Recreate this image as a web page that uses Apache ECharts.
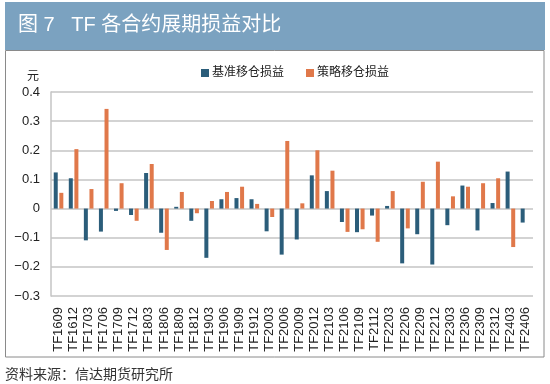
<!DOCTYPE html>
<html><head><meta charset="utf-8">
<script src="https://cdn.jsdelivr.net/npm/echarts@6/dist/echarts.min.js"></script>
<style>html,body{margin:0;padding:0;background:#fff}#c{width:550px;height:384px}</style>
</head><body><div id="c"></div>
<script>
const categories = ['TF1609','TF1612','TF1703','TF1706','TF1709','TF1712','TF1803','TF1806','TF1809','TF1812','TF1903','TF1906','TF1909','TF1912','TF2003','TF2006','TF2009','TF2012','TF2103','TF2106','TF2109','TF2112','TF2203','TF2206','TF2209','TF2212','TF2303','TF2306','TF2309','TF2312','TF2403','TF2406'];
const baseRoll = [0.124,0.104,-0.109,-0.079,-0.008,-0.022,0.122,-0.083,0.006,-0.042,-0.169,0.032,0.036,0.032,-0.078,-0.158,-0.106,0.114,0.060,-0.046,-0.081,-0.024,0.009,-0.188,-0.088,-0.192,-0.057,0.079,-0.075,0.019,0.127,-0.048];
const stratRoll = [0.054,0.204,0.067,0.342,0.087,-0.042,0.153,-0.142,0.057,-0.016,0.026,0.057,0.075,0.016,-0.029,0.232,0.018,0.200,0.130,-0.080,-0.071,-0.114,0.060,-0.068,0.092,0.161,0.042,0.075,0.087,0.104,-0.132,0];
const seriesNames = ['基准移仓损益','策略移仓损益'];
const yTicks = {min:-0.3, max:0.4, step:0.1};

const cjk = '"Liberation Sans","Noto Sans CJK SC",sans-serif';
const chart = echarts.init(document.getElementById('c'));
chart.setOption({
  backgroundColor:'#fff',
  animation:false,
  graphic:[
    {type:'rect',shape:{x:5,y:2,width:540,height:48},style:{fill:'#7ba2c0'},z:-1},
    {type:'rect',shape:{x:5.5,y:50.5,width:538.5,height:306.5},style:{fill:'none',stroke:'#8a8a8a',lineWidth:1},z:-1},
    {type:'text',left:18,top:15,style:{text:'图 7   TF 各合约展期损益对比',fill:'#fff',font:'20px '+cjk}},
    {type:'text',left:27,top:71,style:{text:'元',fill:'#222',font:'12px '+cjk}},
    {type:'text',left:5,top:368,style:{text:'资料来源：信达期货研究所',fill:'#333',font:'14px '+cjk}}
  ],
  legend:{
    top:62,left:196,itemWidth:8,itemHeight:8,itemGap:22,icon:'rect',
    textStyle:{fontSize:12,color:'#222',fontFamily:cjk,padding:[0,0,0,-2]},
    data:seriesNames
  },
  grid:{left:51,right:17,top:92,bottom:88},
  xAxis:{
    type:'category',data:categories,
    axisLine:{show:false},axisTick:{show:false},
    axisLabel:{interval:0,rotate:90,fontSize:13,color:'#222',fontFamily:cjk,margin:11}
  },
  yAxis:{
    type:'value',min:yTicks.min,max:yTicks.max,interval:yTicks.step,
    axisLine:{show:true,lineStyle:{color:'#c4c4c4',width:1.5}},
    axisTick:{show:false},
    splitLine:{lineStyle:{color:'#c4c4c4',width:1.5}},
    axisLabel:{fontSize:13,color:'#222',fontFamily:cjk,margin:11,
      formatter:v=>{const r=Math.round(v*10)/10; if(r===0) return '0'; return (r<0?'\u2212':'')+Math.abs(r).toFixed(1);}}
  },
  series:[
    {name:seriesNames[0],type:'bar',data:baseRoll,barWidth:4,barGap:'40%',itemStyle:{color:'#2b5d7a'}},
    {name:seriesNames[1],type:'bar',data:stratRoll,barWidth:4,itemStyle:{color:'#e0784a'}}
  ]
});
</script></body></html>
